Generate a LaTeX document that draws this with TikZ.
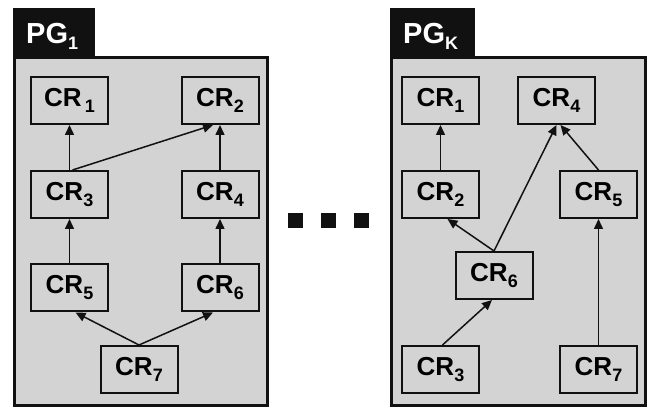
\documentclass[tikz,border=0pt]{standalone}
\usepackage{fontspec}
\setmainfont{Liberation Sans}
\usetikzlibrary{arrows.meta}
\definecolor{panelgray}{RGB}{211,211,211}
\definecolor{tabblack}{RGB}{17,17,17}
% subscript index set in text font
\newcommand{\idx}[1]{\raisebox{-6pt}{\fontsize{18}{18}\selectfont #1}}
\begin{document}
\begin{tikzpicture}[x=1pt,y=-1pt,
  panel/.style={draw=tabblack,line width=3.2pt,fill=panelgray},
  tab/.style={fill=tabblack},
  tablabel/.style={text=white,font=\fontsize{29}{29}\selectfont\bfseries,anchor=base west,inner sep=0pt},
  crbox/.style={draw=tabblack,line width=2pt,fill=panelgray,minimum width=77pt,minimum height=47pt,
    inner sep=0pt,font=\fontsize{26}{26}\selectfont\bfseries},
  link/.style={line width=1.5pt,draw=tabblack,-{Triangle[length=10pt,width=9pt]}},
  dot/.style={fill=tabblack,minimum size=15pt,inner sep=0pt}]
\useasboundingbox (0,0) rectangle (649,411);

% ---- left group
\fill[tab] (13,8) rectangle (95,56);
\node[tablabel] (pg1) at (26,44) {PG\idx{1}};
\draw[panel] (14.5,57.5) rectangle (267.5,405.5);

\node[crbox] (a1) at (69.5,100.5) {CR\hspace{3pt}\idx{1}};
\node[crbox] (a2) at (220,100.5) {CR\idx{2}};
\node[crbox] (a3) at (69.5,194.5) {CR\idx{3}};
\node[crbox] (a4) at (220,194.5) {CR\idx{4}};
\node[crbox] (a5) at (69.5,288) {CR\idx{5}};
\node[crbox] (a6) at (220,288) {CR\idx{6}};
\node[crbox] (a7) at (139,369.5) {CR\idx{7}};

\draw[link] (a3.north) -- (a1.south);
\draw[link] ([xshift=3pt]a3.north) -- ([xshift=-7pt]a2.south);
\draw[link] (a4.north) -- (a2.south);
\draw[link] (a5.north) -- (a3.south);
\draw[link] (a6.north) -- (a4.south);
\draw[link] (a7.north) -- ([xshift=6pt]a5.south);
\draw[link] (a7.north) -- ([xshift=-7pt]a6.south);

% ---- ellipsis between groups
\node[dot] (d1) at (295,221) {};
\node[dot] (d2) at (328,221) {};
\node[dot] (d3) at (361,221) {};

% ---- right group
\fill[tab] (390,8) rectangle (475,56);
\node[tablabel] (pgk) at (403,44) {PG\idx{K}};
\draw[panel] (391.5,57.5) rectangle (645.5,405.5);

\node[crbox] (b1) at (440.5,100.5) {CR\idx{1}};
\node[crbox] (b4) at (556.5,100.5) {CR\idx{4}};
\node[crbox] (b2) at (440.5,194.5) {CR\idx{2}};
\node[crbox] (b5) at (598.5,194.5) {CR\idx{5}};
\node[crbox] (b6) at (494,275.5) {CR\idx{6}};
\node[crbox] (b3) at (440.5,369.5) {CR\idx{3}};
\node[crbox] (b7) at (598.5,369.5) {CR\idx{7}};

\draw[link] (b2.north) -- (b1.south);
\draw[link] (b6.north) -- ([xshift=7pt]b2.south);
\draw[link] (b6.north) -- (b4.south);
\draw[link] (b5.north) -- ([xshift=4pt]b4.south);
\draw[link] (b7.north) -- (b5.south);
\draw[link] ([xshift=2pt]b3.north) -- ([xshift=-2pt]b6.south);
\end{tikzpicture}
\end{document}
